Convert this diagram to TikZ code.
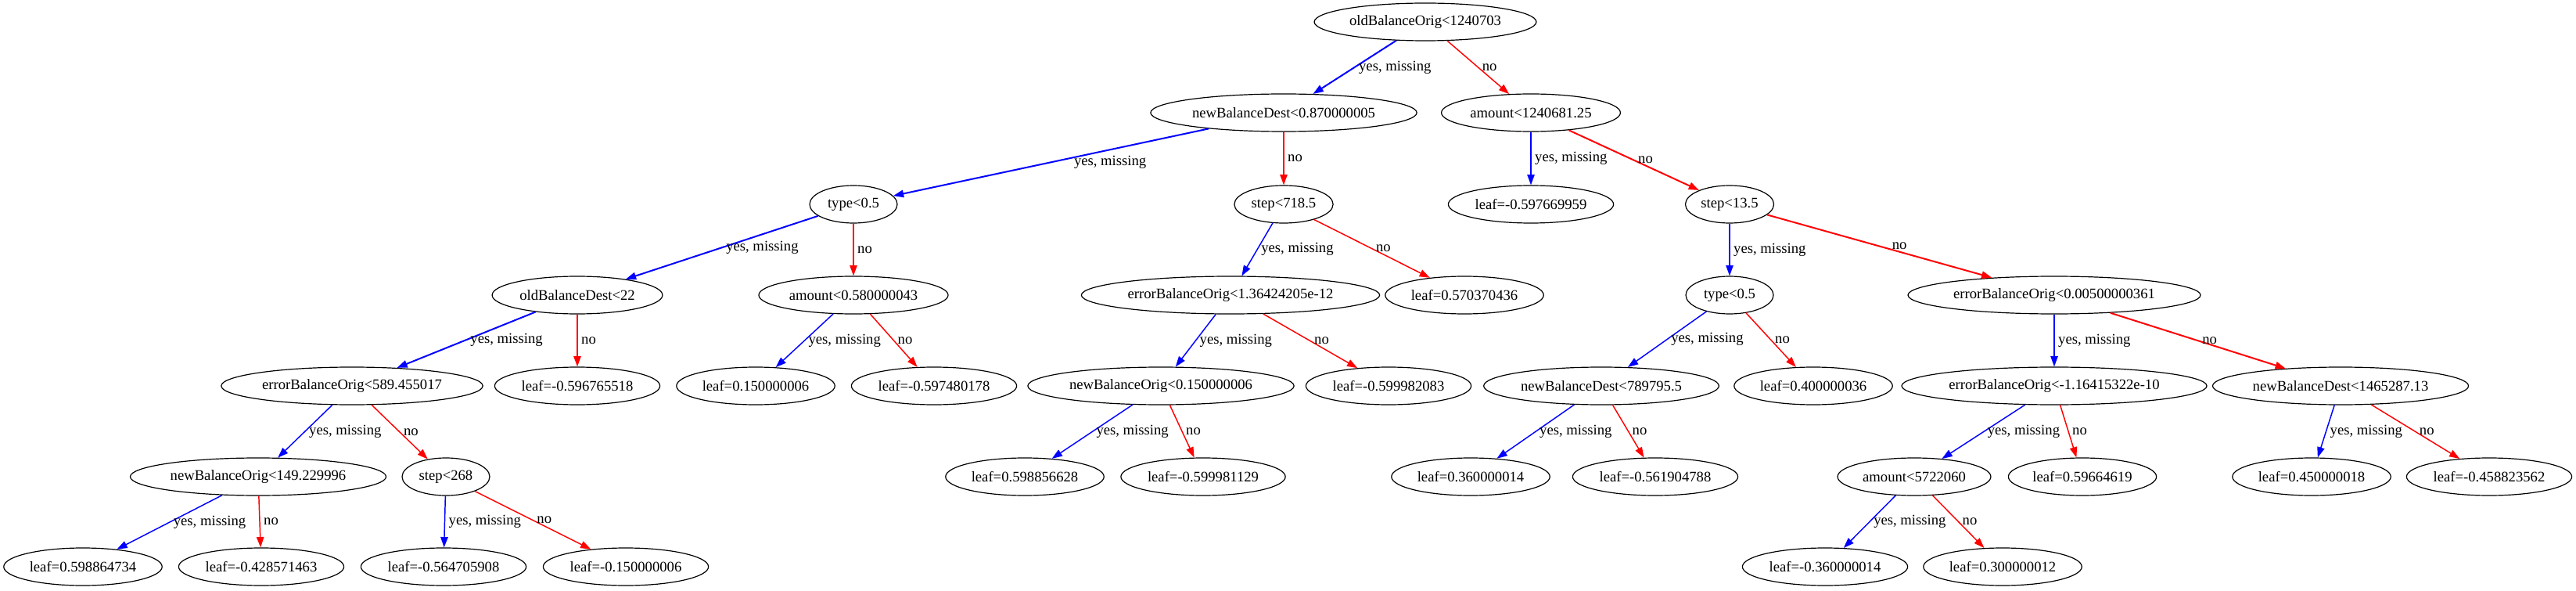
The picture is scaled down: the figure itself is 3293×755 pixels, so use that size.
\documentclass[tikz,border=0pt]{standalone}
\usepackage{fontspec}
\setmainfont{Liberation Serif}
\usetikzlibrary{arrows.meta, shapes.geometric}

\begin{document}
\begin{tikzpicture}[
  x=0.75pt, y=-0.75pt,
  >={Triangle[length=10pt, width=7pt]},
  every node/.style={font=\fontsize{14pt}{16pt}\selectfont},
  split/.style={draw, ellipse, line width=0.9pt, minimum height=36pt, minimum width=84pt, inner xsep=2.5pt},
  yesedge/.style={->, blue, line width=1.1pt},
  noedge/.style={->, red, line width=1.1pt},
  heavy/.style={line width=1.5pt},
  lbl/.style={right, text=black}
]
  \useasboundingbox (0,0) rectangle (3293,755);

  % Level 0
  \node[split] (root) at (1822,28) {oldBalanceOrig<1240703};

  % Level 1
  \node[split] (nbdA) at (1641,144) {newBalanceDest<0.870000005};
  \node[split] (amtA) at (1957,144) {amount<1240681.25};

  % Level 2
  \node[split] (typeA) at (1091,261) {type<0.5};
  \node[split] (stepA) at (1641,261) {step<718.5};
  \node[split] (leafA) at (1957,261) {leaf=-0.597669959};
  \node[split] (stepB) at (2211,261) {step<13.5};

  % Level 3
  \node[split] (obdA) at (738,377) {oldBalanceDest<22};
  \node[split] (amtB) at (1091,377) {amount<0.580000043};
  \node[split] (eboA) at (1573,377) {errorBalanceOrig<1.36424205e-12};
  \node[split] (leafB) at (1872,377) {leaf=0.570370436};
  \node[split] (typeB) at (2211,377) {type<0.5};
  \node[split] (eboB) at (2626,377) {errorBalanceOrig<0.00500000361};

  % Level 4
  \node[split] (eboC) at (450,493) {errorBalanceOrig<589.455017};
  \node[split] (leafC) at (738,493) {leaf=-0.596765518};
  \node[split] (leafD) at (966,493) {leaf=0.150000006};
  \node[split] (leafE) at (1194,493) {leaf=-0.597480178};
  \node[split] (nboA) at (1484,493) {newBalanceOrig<0.150000006};
  \node[split] (leafF) at (1775,493) {leaf=-0.599982083};
  \node[split] (nbdB) at (2047,493) {newBalanceDest<789795.5};
  \node[split] (leafG) at (2318,493) {leaf=0.400000036};
  \node[split] (eboD) at (2626,493) {errorBalanceOrig<-1.16415322e-10};
  \node[split] (nbdC) at (2992,493) {newBalanceDest<1465287.13};

  % Level 5
  \node[split] (nboB) at (330,609) {newBalanceOrig<149.229996};
  \node[split] (stepC) at (570,609) {step<268};
  \node[split] (leafH) at (1310,609) {leaf=0.598856628};
  \node[split] (leafI) at (1538,609) {leaf=-0.599981129};
  \node[split] (leafJ) at (1880,609) {leaf=0.360000014};
  \node[split] (leafK) at (2116,609) {leaf=-0.561904788};
  \node[split] (amtC) at (2447,609) {amount<5722060};
  \node[split] (leafL) at (2662,609) {leaf=0.59664619};
  \node[split] (leafM) at (2955,609) {leaf=0.450000018};
  \node[split] (leafN) at (3182,609) {leaf=-0.458823562};

  % Level 6
  \node[split] (leafO) at (106,724) {leaf=0.598864734};
  \node[split] (leafP) at (334,724) {leaf=-0.428571463};
  \node[split] (leafQ) at (567,724) {leaf=-0.564705908};
  \node[split] (leafR) at (800,724) {leaf=-0.150000006};
  \node[split] (leafS) at (2333,724) {leaf=-0.360000014};
  \node[split] (leafT) at (2560,724) {leaf=0.300000012};

  % Edges
  \draw[yesedge, heavy] (root) -- node[lbl] {yes, missing} (nbdA);
  \draw[noedge] (root) -- node[lbl] {no} (amtA);
  \draw[yesedge, heavy] (nbdA) -- node[lbl, xshift=18pt] {yes, missing} (typeA);
  \draw[noedge] (nbdA) -- node[lbl] {no} (stepA);
  \draw[yesedge] (amtA) -- node[lbl] {yes, missing} (leafA);
  \draw[noedge, heavy] (amtA) -- node[lbl] {no} (stepB);
  \draw[yesedge, heavy] (typeA) -- node[lbl] {yes, missing} (obdA);
  \draw[noedge] (typeA) -- node[lbl] {no} (amtB);
  \draw[yesedge] (stepA) -- node[lbl] {yes, missing} (eboA);
  \draw[noedge] (stepA) -- node[lbl] {no} (leafB);
  \draw[yesedge] (stepB) -- node[lbl] {yes, missing} (typeB);
  \draw[noedge, heavy] (stepB) -- node[lbl, xshift=8pt] {no} (eboB);
  \draw[yesedge, heavy] (obdA) -- node[lbl] {yes, missing} (eboC);
  \draw[noedge] (obdA) -- node[lbl] {no} (leafC);
  \draw[yesedge] (amtB) -- node[lbl] {yes, missing} (leafD);
  \draw[noedge] (amtB) -- node[lbl] {no} (leafE);
  \draw[yesedge] (eboA) -- node[lbl] {yes, missing} (nboA);
  \draw[noedge] (eboA) -- node[lbl] {no} (leafF);
  \draw[yesedge] (typeB) -- node[lbl] {yes, missing} (nbdB);
  \draw[noedge] (typeB) -- node[lbl] {no} (leafG);
  \draw[yesedge] (eboB) -- node[lbl] {yes, missing} (eboD);
  \draw[noedge, heavy] (eboB) -- node[lbl] {no} (nbdC);
  \draw[yesedge] (eboC) -- node[lbl] {yes, missing} (nboB);
  \draw[noedge] (eboC) -- node[lbl] {no} (stepC);
  \draw[yesedge] (nboA) -- node[lbl] {yes, missing} (leafH);
  \draw[noedge] (nboA) -- node[lbl] {no} (leafI);
  \draw[yesedge] (nbdB) -- node[lbl] {yes, missing} (leafJ);
  \draw[noedge] (nbdB) -- node[lbl] {no} (leafK);
  \draw[yesedge] (eboD) -- node[lbl] {yes, missing} (amtC);
  \draw[noedge] (eboD) -- node[lbl] {no} (leafL);
  \draw[yesedge] (nbdC) -- node[lbl] {yes, missing} (leafM);
  \draw[noedge] (nbdC) -- node[lbl] {no} (leafN);
  \draw[yesedge] (nboB) -- node[lbl] {yes, missing} (leafO);
  \draw[noedge] (nboB) -- node[lbl] {no} (leafP);
  \draw[yesedge] (stepC) -- node[lbl] {yes, missing} (leafQ);
  \draw[noedge] (stepC) -- node[lbl] {no} (leafR);
  \draw[yesedge] (amtC) -- node[lbl] {yes, missing} (leafS);
  \draw[noedge] (amtC) -- node[lbl] {no} (leafT);

\end{tikzpicture}
\end{document}
